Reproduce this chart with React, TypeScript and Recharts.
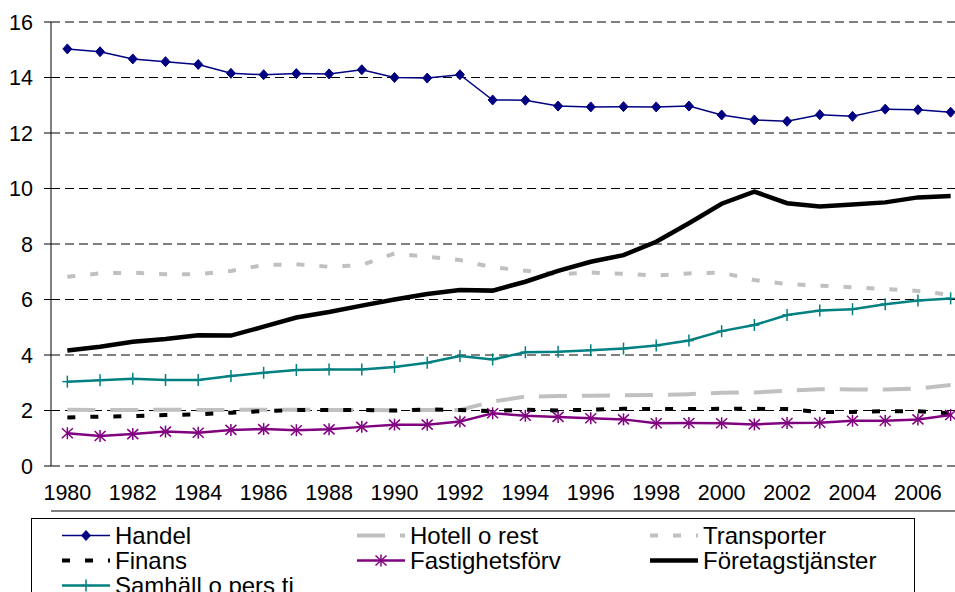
import React from 'react';
import { LineChart, Line, XAxis, YAxis, CartesianGrid, Legend } from 'recharts';

const FONT = '"Liberation Sans", Arial, sans-serif';

const years = [
  1980, 1981, 1982, 1983, 1984, 1985, 1986, 1987, 1988, 1989, 1990, 1991, 1992, 1993,
  1994, 1995, 1996, 1997, 1998, 1999, 2000, 2001, 2002, 2003, 2004, 2005, 2006, 2007,
];
const yearLabels = [1980, 1982, 1984, 1986, 1988, 1990, 1992, 1994, 1996, 1998, 2000, 2002, 2004, 2006];
const yTicks = [0, 2, 4, 6, 8, 10, 12, 14, 16];

const handel = [
  15.03, 14.93, 14.67, 14.57, 14.47, 14.15, 14.1, 14.14, 14.13, 14.28, 14.0, 13.98, 14.1, 13.19,
  13.18, 12.97, 12.94, 12.95, 12.94, 12.97, 12.65, 12.47, 12.42, 12.66, 12.6, 12.86, 12.84, 12.75,
];
const hotell = [
  2.03, 2.02, 2.02, 2.03, 2.02, 2.02, 2.03, 2.03, 2.02, 2.02, 2.01, 2.02, 2.02, 2.32,
  2.5, 2.52, 2.53, 2.55, 2.56, 2.59, 2.64, 2.65, 2.71, 2.77, 2.76, 2.76, 2.79, 2.92,
];
const transporter = [
  6.82, 6.94, 6.97, 6.91, 6.91, 7.03, 7.24, 7.27, 7.18, 7.24, 7.66, 7.54, 7.42, 7.16,
  7.04, 6.91, 6.97, 6.93, 6.86, 6.94, 6.97, 6.7, 6.56, 6.5, 6.44, 6.38, 6.31, 6.16,
];
const finans = [
  1.75, 1.78, 1.8, 1.84, 1.86, 1.92, 1.98, 2.02, 2.02, 2.02, 2.0, 2.04, 2.02, 1.98,
  2.03, 2.0, 2.03, 2.06, 2.05, 2.05, 2.06, 2.06, 2.05, 1.95, 1.95, 1.98, 1.97, 1.9,
];
const fastighet = [
  1.18, 1.08, 1.15, 1.24, 1.2, 1.3, 1.33, 1.29, 1.32, 1.41, 1.49, 1.49, 1.6, 1.9,
  1.81, 1.77, 1.72, 1.68, 1.54, 1.55, 1.54, 1.5, 1.55, 1.56, 1.63, 1.63, 1.68, 1.84,
];
const foretag = [
  4.16, 4.3, 4.48, 4.58, 4.71, 4.7, 5.02, 5.35, 5.55, 5.78, 6.0, 6.2, 6.34, 6.32,
  6.64, 7.03, 7.36, 7.6, 8.08, 8.75, 9.45, 9.89, 9.47, 9.35, 9.42, 9.5, 9.68, 9.73,
];
const samhall = [
  3.04, 3.09, 3.14, 3.1, 3.1, 3.24, 3.36, 3.46, 3.48, 3.48, 3.57, 3.72, 3.96, 3.84,
  4.1, 4.12, 4.17, 4.23, 4.34, 4.52, 4.86, 5.08, 5.44, 5.6, 5.65, 5.83, 5.96, 6.04,
];

const data = years.map((year, i) => ({
  year,
  handel: handel[i],
  hotell: hotell[i],
  transporter: transporter[i],
  finans: finans[i],
  fastighet: fastighet[i],
  foretag: foretag[i],
  samhall: samhall[i],
}));

// tick marks sit between the years, like in the original
const boundaryTicks = [...years.map((y) => y - 0.5), years[years.length - 1] + 0.5];

type Marker = 'diamond' | 'star' | 'plus' | null;

const drawMarker = (kind: Marker, cx: number, cy: number, color: string, key?: any) => {
  if (kind === 'diamond') {
    return (
      <polygon
        key={key}
        points={`${cx},${cy - 5} ${cx + 4.5},${cy} ${cx},${cy + 5} ${cx - 4.5},${cy}`}
        fill={color}
        stroke={color}
        strokeWidth={1}
      />
    );
  }
  if (kind === 'star') {
    return (
      <g key={key} stroke={color} strokeWidth={1.5}>
        <line x1={cx} y1={cy - 6} x2={cx} y2={cy + 6} />
        <line x1={cx - 5.5} y1={cy - 5} x2={cx + 5.5} y2={cy + 5} />
        <line x1={cx - 5.5} y1={cy + 5} x2={cx + 5.5} y2={cy - 5} />
      </g>
    );
  }
  if (kind === 'plus') {
    return (
      <g key={key} stroke={color} strokeWidth={1.5}>
        <line x1={cx} y1={cy - 6} x2={cx} y2={cy + 6} />
        <line x1={cx - 5} y1={cy} x2={cx + 5} y2={cy} />
      </g>
    );
  }
  return null;
};

const series = [
  { key: 'handel', name: 'Handel', color: '#000080', width: 1.5, dash: undefined, marker: 'diamond' as Marker },
  { key: 'hotell', name: 'Hotell o rest', color: '#C0C0C0', width: 4, dash: '28 15', marker: null },
  { key: 'transporter', name: 'Transporter', color: '#C0C0C0', width: 4, dash: '8 15', marker: null },
  { key: 'finans', name: 'Finans', color: '#000000', width: 4, dash: '8 15', marker: null },
  { key: 'fastighet', name: 'Fastighetsförv', color: '#800080', width: 2.5, dash: undefined, marker: 'star' as Marker },
  { key: 'foretag', name: 'Företagstjänster', color: '#000000', width: 4.5, dash: undefined, marker: null },
  { key: 'samhall', name: 'Samhäll o pers ti', color: '#008080', width: 2.5, dash: undefined, marker: 'plus' as Marker },
];

const seriesOrder = series.map((s) => s.key);

const renderLegend = (props: any) => {
  const items = [...(props.payload || [])].sort(
    (a: any, b: any) => seriesOrder.indexOf(a.dataKey) - seriesOrder.indexOf(b.dataKey)
  );
  return (
    <div
      style={{
        position: 'absolute',
        left: 31,
        top: 518,
        width: 884,
        height: 100,
        boxSizing: 'border-box',
        border: '1px solid #000',
        background: '#fff',
        padding: '4px 0 0 30px',
        display: 'grid',
        gridTemplateColumns: '295px 293px 1fr',
        gridAutoRows: '25px',
        fontFamily: FONT,
        fontSize: 24,
        lineHeight: '25px',
        color: '#000',
      }}
    >
      {items.map((item: any) => {
        const s = series[seriesOrder.indexOf(item.dataKey)];
        if (!s) return null;
        return (
          <div key={s.key} style={{ display: 'flex', alignItems: 'center', whiteSpace: 'nowrap' }}>
            <svg width={48} height={25} style={{ display: 'block', flex: 'none' }}>
              <line
                x1={0}
                y1={12.5}
                x2={48}
                y2={12.5}
                stroke={s.color}
                strokeWidth={s.width}
                strokeDasharray={s.dash}
              />
              {drawMarker(s.marker, 24, 12.5, s.color)}
            </svg>
            <span style={{ marginLeft: 5 }}>{item.value}</span>
          </div>
        );
      })}
    </div>
  );
};

export default function App() {
  return (
    <div
      style={{
        position: 'absolute',
        left: 0,
        top: 0,
        width: 955,
        height: 592,
        overflow: 'hidden',
        background: '#fff',
        fontFamily: FONT,
      }}
    >
      <LineChart width={967} height={592} data={data} margin={{ top: 22, right: 0, left: 0, bottom: 74 }}>
        <CartesianGrid
          vertical={false}
          stroke="#000"
          strokeDasharray="9 5"
          xAxisId="labels"
        />
        <XAxis
          xAxisId="ticks"
          dataKey="year"
          type="number"
          domain={[1979.5, 2007.5]}
          ticks={boundaryTicks}
          interval={0}
          tick={false}
          tickSize={7}
          height={7}
          axisLine={{ stroke: '#000', strokeWidth: 1 }}
          tickLine={{ stroke: '#000', strokeWidth: 1 }}
        />
        <XAxis
          xAxisId="labels"
          dataKey="year"
          type="number"
          domain={[1979.5, 2007.5]}
          ticks={yearLabels}
          interval={0}
          axisLine={false}
          tickLine={false}
          tickSize={0}
          tickMargin={19}
          height={45}
          tick={{ fontSize: 21.5, fill: '#000', fontFamily: FONT }}
        />
        <YAxis
          width={51}
          domain={[0, 16]}
          ticks={yTicks}
          interval={0}
          tickSize={7}
          tickMargin={11}
          axisLine={{ stroke: '#000', strokeWidth: 1 }}
          tickLine={{ stroke: '#000', strokeWidth: 1 }}
          tick={{ fontSize: 21.5, fill: '#000', fontFamily: FONT }}
        />
        <Legend
          content={renderLegend}
          wrapperStyle={{ left: 0, top: 0, width: 0, height: 0 }}
        />
        {series.map((s) => (
          <Line
            key={s.key}
            xAxisId="labels"
            dataKey={s.key}
            name={s.name}
            type="linear"
            stroke={s.color}
            strokeWidth={s.width}
            strokeDasharray={s.dash}
            dot={
              s.marker
                ? (p: any) =>
                    p.cx == null ? <g key={p.index} /> : drawMarker(s.marker, p.cx, p.cy, s.color, p.index)
                : false
            }
            activeDot={false}
            isAnimationActive={false}
          />
        ))}
      </LineChart>
    </div>
  );
}
